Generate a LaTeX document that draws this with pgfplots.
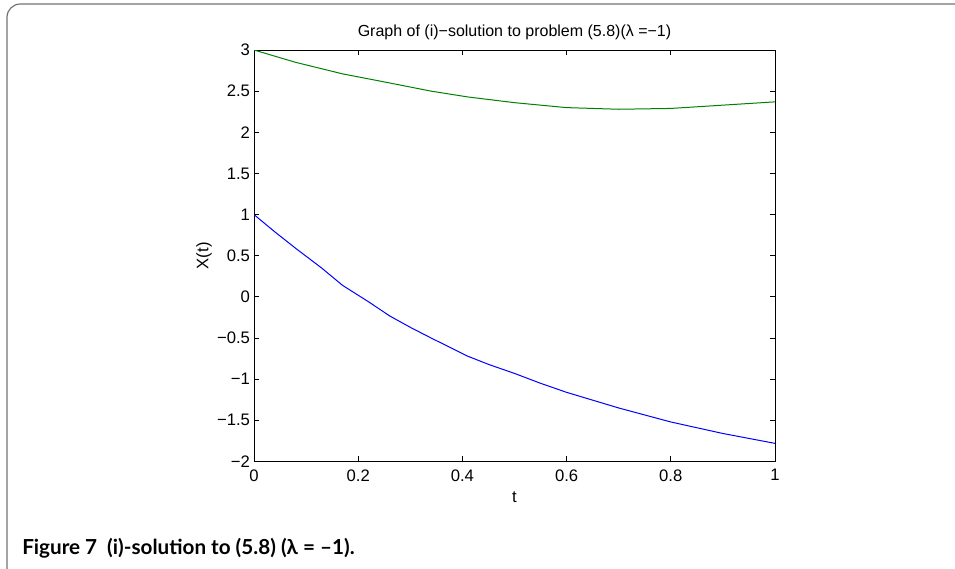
\documentclass[border=0pt]{standalone}
\usepackage{pgfplots}
\pgfplotsset{compat=1.18}
\usepackage{fontspec}
\setmainfont{Liberation Sans}
\newfontfamily\capfont{Lato}
\begin{document}
\begin{tikzpicture}
\useasboundingbox (0,0) rectangle (716.25pt,426pt);
% frame round the figure
\draw[black!55,line width=0.9pt,rounded corners=10pt] (728pt,423pt) -- (5.25pt,423pt) -- (5.25pt,-10.5pt) -- (728pt,-10.5pt);
\begin{axis}[
  at={(190.5pt,79.9pt)},anchor=south west,
  scale only axis,width=390.75pt,height=308.6pt,
  xmin=0,xmax=1,ymin=-2,ymax=3,
  axis line style={line width=0.75pt},
  tick style={black,line width=0.6pt},
  tick align=inside,major tick length=4pt,
  xtick={0,0.2,0.4,0.6,0.8,1},
  xticklabels={0,0.2,0.4,0.6,0.8,1},
  ytick={-2,-1.5,-1,-0.5,0,0.5,1,1.5,2,2.5,3},
  yticklabels={−2,−1.5,−1,−0.5,0,0.5,1,1.5,2,2.5,3},
  ticklabel style={font=\fontsize{12.5}{14}\selectfont},
  xticklabel style={yshift=-2.5pt},
  yticklabel style={xshift=0.5pt},
  xlabel={t},ylabel={X(t)},
  label style={font=\fontsize{12.5}{14}\selectfont},
  xlabel style={yshift=-1pt},
  ylabel style={yshift=-3pt},
  title={Graph of (i)−solution to problem (5.8)(λ =−1)},
  title style={font=\fontsize{12}{14}\selectfont,yshift=-2pt},
]
\addplot[blue,line width=0.75pt] coordinates {
(0,1) (0.04,0.79) (0.08,0.59) (0.13,0.35) (0.17,0.14) (0.22,-0.06) (0.26,-0.23)
(0.30,-0.37) (0.34,-0.5) (0.41,-0.72) (0.45,-0.82)
(0.5,-0.93) (0.55,-1.05) (0.6,-1.16) (0.7,-1.35) (0.8,-1.52) (0.9,-1.66) (1,-1.78)};
\addplot[green!50!black,line width=0.75pt] coordinates {
(0,3) (0.08,2.85) (0.17,2.71) (0.26,2.6) (0.34,2.5) (0.41,2.43)
(0.5,2.36) (0.6,2.3) (0.7,2.28) (0.8,2.29) (0.9,2.33) (1,2.37)};
\end{axis}
\node[anchor=base west,inner sep=0pt,font=\capfont\bfseries\fontsize{15.5}{18}\selectfont] at (16.5pt,10pt) {Figure 7\ \ (i)-solution to (5.8) (λ = –1).};
\end{tikzpicture}
\end{document}
